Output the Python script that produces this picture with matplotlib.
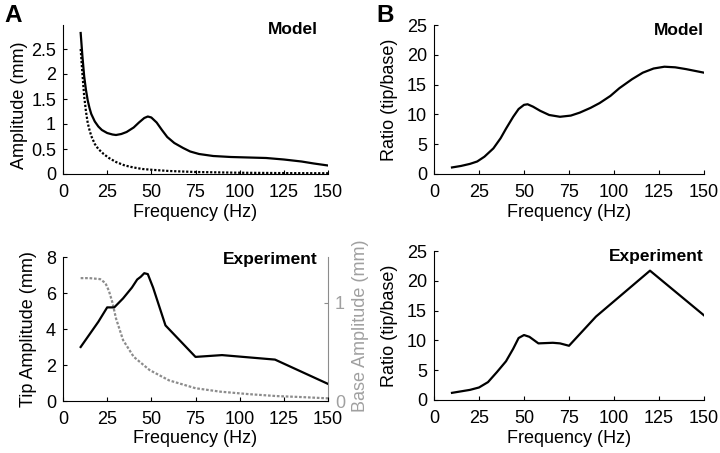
import matplotlib
matplotlib.use("Agg")
import matplotlib.pyplot as plt

plt.rcParams['font.family'] = ['Liberation Sans', 'DejaVu Sans']

# ---- Data ----
freq_ticks = [0, 25, 50, 75, 100, 125, 150]

# Panel A top: model amplitude
model_tip_f = [10, 11, 12, 13, 14, 15, 16, 18, 20, 22, 25, 28, 30, 33, 36, 40, 43, 46, 48, 50,
               53, 56, 59, 63, 68, 72, 77, 85, 95, 105, 115, 125, 135, 142, 150]
model_tip_a = [2.82, 2.35, 1.95, 1.68, 1.47, 1.32, 1.20, 1.05, 0.95, 0.88, 0.82, 0.79, 0.78, 0.80,
               0.84, 0.93, 1.03, 1.12, 1.15, 1.13, 1.03, 0.88, 0.74, 0.62, 0.52, 0.45, 0.40, 0.36,
               0.34, 0.33, 0.32, 0.29, 0.25, 0.21, 0.17]
model_base_f = [10, 11, 12, 13, 14, 15, 16, 18, 20, 23, 26, 30, 35, 40, 45, 50, 60, 75, 100, 125, 150]
model_base_a = [2.50, 2.00, 1.55, 1.25, 1.02, 0.88, 0.76, 0.60, 0.50, 0.40, 0.32, 0.24, 0.17, 0.13,
                0.10, 0.085, 0.06, 0.04, 0.025, 0.018, 0.015]

# Panel A bottom: experiment amplitude
exp_tip_f = [10, 20, 25, 29, 34, 39, 42, 44, 46, 48, 51, 58, 75, 90, 120, 150]
exp_tip_a = [3.0, 4.4, 5.2, 5.2, 5.7, 6.3, 6.75, 6.9, 7.1, 7.05, 6.3, 4.2, 2.45, 2.55, 2.3, 0.95]
exp_base_f = [10, 15, 21, 24, 26, 28, 30, 34, 40, 49, 60, 75, 89, 105, 121, 135, 150]
exp_base_a = [1.25, 1.25, 1.24, 1.20, 1.12, 1.00, 0.84, 0.62, 0.45, 0.315, 0.21, 0.13, 0.095,
              0.07, 0.05, 0.04, 0.027]

# Panel B top: model ratio
model_ratio_f = [10, 15, 20, 24, 28, 33, 37, 40, 44, 47, 50, 52, 55, 59, 64, 70, 76, 81, 87, 92,
                 98, 103, 110, 116, 122, 128, 134, 140, 145, 150]
model_ratio_r = [1.1, 1.35, 1.7, 2.1, 2.9, 4.3, 6.0, 7.6, 9.6, 10.9, 11.6, 11.7, 11.3, 10.6, 9.9,
                 9.6, 9.8, 10.3, 11.1, 11.9, 13.1, 14.4, 15.9, 17.0, 17.7, 18.0, 17.9, 17.6, 17.3,
                 17.0]

# Panel B bottom: experiment ratio
exp_ratio_f = [10, 20, 25, 30, 35, 40, 44, 47, 50, 53, 58, 66, 70, 75, 90, 120, 150]
exp_ratio_r = [1.2, 1.7, 2.1, 3.0, 4.7, 6.5, 8.6, 10.4, 10.9, 10.6, 9.5, 9.6, 9.5, 9.1, 14.0, 21.7, 14.2]

W, H = 720, 453
fig = plt.figure(figsize=(7.2, 4.53), dpi=100)


def frac(left, right, top, bottom):
    return [left / W, 1 - bottom / H, (right - left) / W, (bottom - top) / H]


TICK_FS = 13
LAB_FS = 13
TAG_FS = 12.5
GRAY = '#8c8c8c'
GRAY_TXT = '#a0a0a0'


def style(ax):
    for s in ['top', 'right']:
        ax.spines[s].set_visible(False)
    for s in ['left', 'bottom']:
        ax.spines[s].set_linewidth(0.8)
    ax.tick_params(direction='in', length=3, width=0.8, labelsize=TICK_FS)
    ax.tick_params(axis='x', pad=7)
    ax.tick_params(axis='y', pad=5)
    ax.set_xlim(0, 150)
    ax.set_xticks(freq_ticks)
    ax.set_xlabel('Frequency (Hz)', fontsize=LAB_FS)
    ax.xaxis.set_label_coords(0.5, -0.2)


# A top
ax1 = fig.add_axes(frac(63, 328, 25, 174))
style(ax1)
ax1.plot(model_tip_f, model_tip_a, color='black', lw=1.6)
ax1.plot(model_base_f, model_base_a, color='black', lw=1.6, ls=(0, (1, 0.8)))
ax1.set_ylim(0, 2.98)
ax1.set_yticks([0, 0.5, 1, 1.5, 2, 2.5])
ax1.set_yticklabels(['0', '0.5', '1', '1.5', '2', '2.5'])
ax1.set_ylabel('Amplitude (mm)', fontsize=LAB_FS)
ax1.yaxis.set_label_coords(-0.132, 0.46)
ax1.text(0.96, 0.97, 'Model', transform=ax1.transAxes, ha='right', va='center',
         fontsize=TAG_FS, fontweight='bold')

# A bottom
ax2 = fig.add_axes(frac(63, 328, 257, 401))
style(ax2)
ax2.plot(exp_tip_f, exp_tip_a, color='black', lw=1.6, zorder=3)
ax2.set_ylim(0, 8)
ax2.set_yticks([0, 2, 4, 6, 8])
ax2.set_ylabel('Tip Amplitude (mm)', fontsize=LAB_FS)
ax2.yaxis.set_label_coords(-0.098, 0.5)
ax2.text(0.96, 0.985, 'Experiment', transform=ax2.transAxes, ha='right', va='center',
         fontsize=TAG_FS, fontweight='bold')
ax2b = ax2.twinx()
ax2b.set_position(frac(63, 328, 257, 401))
for s in ['top', 'left', 'bottom']:
    ax2b.spines[s].set_visible(False)
ax2b.spines['right'].set_color(GRAY)
ax2b.spines['right'].set_linewidth(0.8)
ax2b.plot(exp_base_f, exp_base_a, color=GRAY, lw=1.6, ls=(0, (1.2, 0.8)))
ax2b.set_ylim(0, 1.465)
ax2b.set_yticks([0, 1])
ax2b.tick_params(direction='in', length=3, width=0.8, labelsize=TICK_FS,
                 colors=GRAY, labelcolor=GRAY_TXT, pad=5)
ax2b.set_ylabel('Base Amplitude (mm)', fontsize=LAB_FS, color=GRAY_TXT)
ax2b.yaxis.set_label_coords(1.09, 0.52)
ax2.set_zorder(ax2b.get_zorder() + 1)
ax2.patch.set_visible(False)

# B top
ax3 = fig.add_axes(frac(434, 704, 25, 174))
style(ax3)
ax3.plot(model_ratio_f, model_ratio_r, color='black', lw=1.6)
ax3.set_ylim(0, 25)
ax3.set_yticks([0, 5, 10, 15, 20, 25])
ax3.set_ylabel('Ratio (tip/base)', fontsize=LAB_FS)
ax3.yaxis.set_label_coords(-0.133, 0.5)
ax3.text(1.0, 0.966, 'Model', transform=ax3.transAxes, ha='right', va='center',
         fontsize=TAG_FS, fontweight='bold')

# B bottom
ax4 = fig.add_axes(frac(434, 704, 251, 400))
style(ax4)
ax4.plot(exp_ratio_f, exp_ratio_r, color='black', lw=1.6)
ax4.set_ylim(0, 25)
ax4.set_yticks([0, 5, 10, 15, 20, 25])
ax4.set_ylabel('Ratio (tip/base)', fontsize=LAB_FS)
ax4.yaxis.set_label_coords(-0.133, 0.5)
ax4.text(1.0, 0.966, 'Experiment', transform=ax4.transAxes, ha='right', va='center',
         fontsize=TAG_FS, fontweight='bold')

# Panel letters
fig.text(4 / W, 1 - 15 / H, 'A', fontsize=17.5, fontweight='bold', va='center', ha='left')
fig.text(376 / W, 1 - 15 / H, 'B', fontsize=17.5, fontweight='bold', va='center', ha='left')

fig.savefig('out.png', dpi=100)
